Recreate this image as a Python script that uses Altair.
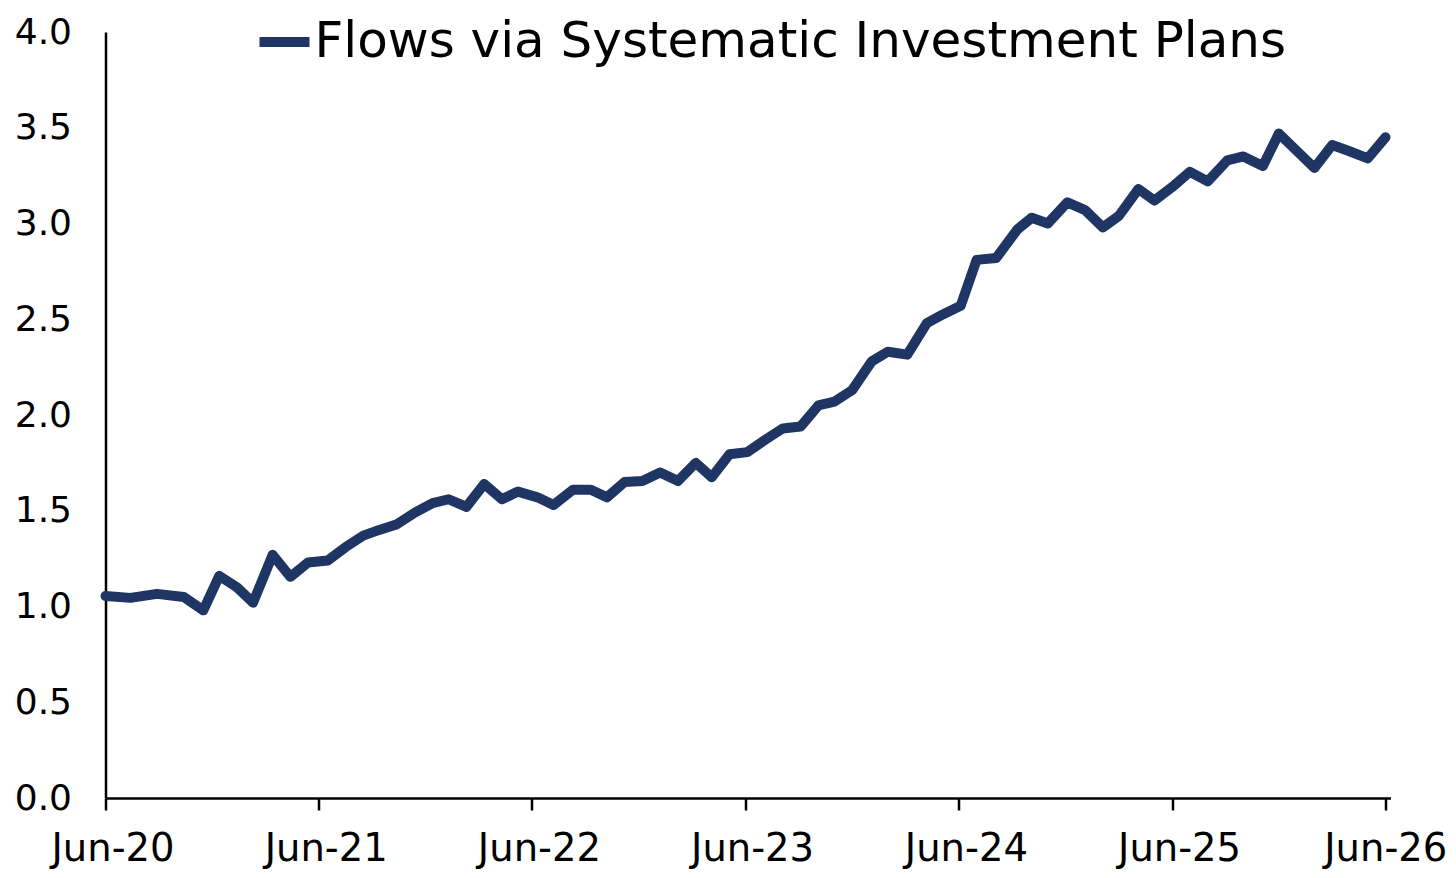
import altair as alt
import pandas as pd
import numpy as np

# months after Jun-2020 at which each vertex sits
months = [0, 1.4, 2.9, 4.4, 5.5, 6.4, 7.4, 8.3, 9.4, 10.4,
          11.4, 12.5, 13.5, 14.5, 15.4, 16.4, 17.4, 18.4, 19.3, 20.3,
          21.3, 22.3, 23.2, 24.3, 25.2, 26.3, 27.3, 28.2, 29.2, 30.2,
          31.2, 32.2, 33.2, 34.1, 35.1, 36.1, 37.1, 38.1, 39.1, 40.1,
          41.0, 42.0, 43.1, 44.0, 45.1, 46.2, 47.1, 48.1, 49.0, 50.1,
          51.3, 52.1, 53.0, 54.1, 55.1, 56.1, 57.0, 58.1, 59.0, 60.0,
          61.0, 62.0, 63.1, 64.0, 65.1, 66.0, 67.0, 68.0, 69.0, 69.9,
          71.0, 72.0]

values = [1.055, 1.045, 1.066, 1.05, 0.98, 1.16, 1.10, 1.02, 1.27, 1.155,
          1.23, 1.24, 1.31, 1.37, 1.40, 1.43, 1.49, 1.54, 1.56, 1.52,
          1.64, 1.56, 1.60, 1.57, 1.53, 1.61, 1.61, 1.57, 1.65, 1.655,
          1.70, 1.655, 1.75, 1.675, 1.795, 1.806, 1.87, 1.93, 1.94, 2.05,
          2.07, 2.13, 2.28, 2.33, 2.315, 2.48, 2.525, 2.57, 2.81, 2.82,
          2.97, 3.03, 3.00, 3.11, 3.07, 2.98, 3.04, 3.18, 3.12, 3.19,
          3.27, 3.22, 3.33, 3.35, 3.30, 3.47, 3.38, 3.29, 3.41, 3.38,
          3.34, 3.45]

series_name = "Flows via Systematic Investment Plans"
tick_years = [2020, 2021, 2022, 2023, 2024, 2025, 2026]
y_ticks = [0, 0.5, 1.0, 1.5, 2.0, 2.5, 3.0, 3.5, 4.0]

start = pd.Timestamp("2020-06-01")
dates = start + pd.to_timedelta(np.array(months) * 30.4375, unit="D")
df = pd.DataFrame({
    "date": dates.strftime("%Y-%m-%dT%H:%M:%S"),
    "value": values,
    "series": series_name,
})

color = "#1f3564"
font = "DejaVu Sans"

chart = alt.Chart(df).mark_line(
    strokeWidth=10, strokeCap="round", strokeJoin="round"
).encode(
    x=alt.X(
        "date:T",
        scale=alt.Scale(domain=[alt.DateTime(year=2020, month=6, date=1),
                                alt.DateTime(year=2026, month=6, date=10)]),
        axis=alt.Axis(
            values=[alt.DateTime(year=y, month=6, date=1) for y in tick_years],
            format="%b-%y", title=None, grid=False,
            domainColor="black", domainWidth=2.5,
            tickColor="black", tickWidth=2.5, tickSize=12,
            labelFont=font, labelFontSize=38.5, labelColor="black",
            labelPadding=20, labelFlush=False, labelOverlap=False,
            labelOffset={"condition": {"test": "datum.value > datetime(2026, 0, 1)",
                                       "value": 0},
                         "value": 7},
        ),
    ),
    y=alt.Y(
        "value:Q",
        scale=alt.Scale(domain=[0, 4], nice=False),
        axis=alt.Axis(
            values=y_ticks, format=".1f", title=None, grid=False,
            domainColor="black", domainWidth=2.5, ticks=False,
            labelFont=font, labelFontSize=36, labelColor="black",
            labelPadding=34, labelOverlap=False,
        ),
    ),
    color=alt.Color(
        "series:N",
        scale=alt.Scale(range=[color]),
        legend=alt.Legend(
            orient="none", legendX=149, legendY=-20, title=None,
            symbolType="stroke", symbolSize=2500, symbolStrokeWidth=10,
            labelFont=font, labelFontSize=50, labelColor="black",
            labelLimit=2000, labelOffset=0, padding=0,
        ),
    ),
).properties(
    width=1285, height=766,
    autosize=alt.AutoSizeParams(type="none"),
    padding={"left": 97.5, "top": 24, "right": 57, "bottom": 72},
    background="white",
).configure_view(stroke=None)

chart.save("out.html", embed_options={"renderer": "svg", "actions": False})
